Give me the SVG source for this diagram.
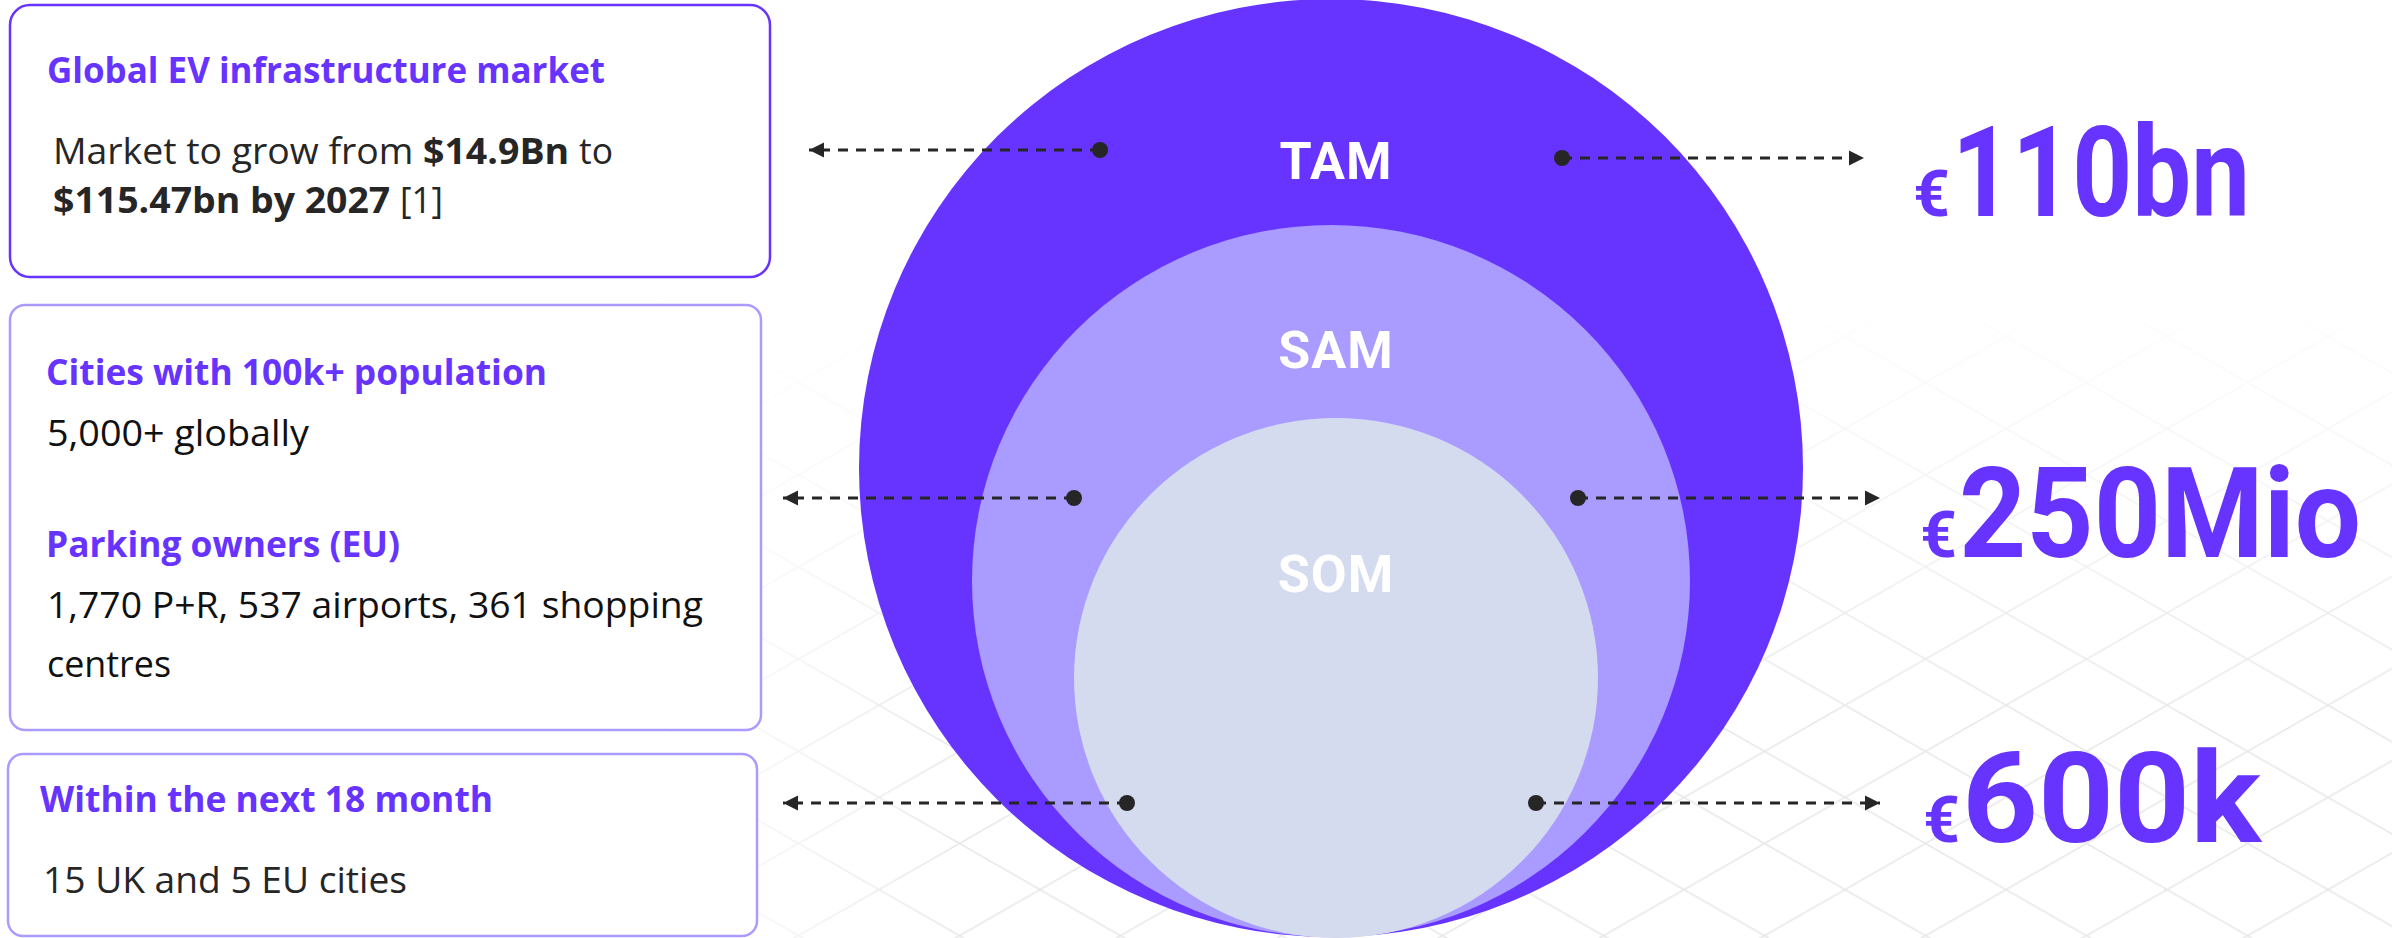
<svg xmlns="http://www.w3.org/2000/svg" width="2392" height="938" viewBox="0 0 2392 938">
<style>
.box1{fill:#fff;stroke:#6633FF;stroke-width:2.5}
.box2{fill:#fff;stroke:#A99BFF;stroke-width:2.5}
.ttl{font-family:"Open Sans","Noto Sans",sans-serif;font-weight:700;font-size:36px;fill:#6633FF}
.body{font-family:"Open Sans","Noto Sans",sans-serif;font-weight:400;font-size:36px;fill:#262626}
.b{font-weight:700}
.lbl{font-family:Roboto,"Liberation Sans",sans-serif;font-weight:700;font-size:52px;fill:#fff;text-anchor:middle;letter-spacing:1px}
.big{font-family:Roboto,"Liberation Sans",sans-serif;font-weight:700;font-size:126px;fill:#6633FF}
.eur{font-family:Roboto,"Liberation Sans",sans-serif;font-weight:700;font-size:64px;fill:#6633FF;text-anchor:end}
.conn{stroke:#262626;stroke-width:3;stroke-dasharray:10 8;fill:none;marker-start:url(#dot);marker-end:url(#arr)}
</style>
<defs>
<marker id="arr" markerUnits="userSpaceOnUse" markerWidth="16" markerHeight="16" viewBox="0 0 16 16" refX="15" refY="8" orient="auto">
<path d="M0,0.5 L15,8 L0,15.5 z" fill="#262626"/>
</marker>
<marker id="dot" markerUnits="userSpaceOnUse" markerWidth="18" markerHeight="18" viewBox="0 0 18 18" refX="9" refY="9" orient="auto">
<circle cx="9" cy="9" r="8" fill="#262626"/>
</marker>
<pattern id="grid" patternUnits="userSpaceOnUse" x="1845" y="613" width="161" height="92.2">
<path d="M0,0 L161,92.2 M0,92.2 L161,0" stroke="#e9e9e9" stroke-width="1.6" fill="none"/>
</pattern>
<linearGradient id="gv" x1="0" y1="280" x2="0" y2="720" gradientUnits="userSpaceOnUse">
<stop offset="0" stop-color="#fff" stop-opacity="0"/>
<stop offset="1" stop-color="#fff" stop-opacity="1"/>
</linearGradient>
<linearGradient id="gh" x1="640" y1="0" x2="950" y2="0" gradientUnits="userSpaceOnUse">
<stop offset="0" stop-color="#fff" stop-opacity="0"/>
<stop offset="1" stop-color="#fff" stop-opacity="1"/>
</linearGradient>
<mask id="mv" maskUnits="userSpaceOnUse" x="0" y="0" width="2392" height="938"><rect x="0" y="0" width="2392" height="938" fill="url(#gv)"/></mask>
<mask id="mh" maskUnits="userSpaceOnUse" x="0" y="0" width="2392" height="938"><rect x="0" y="0" width="2392" height="938" fill="url(#gh)"/></mask>
</defs>
<rect x="0" y="0" width="2392" height="938" fill="#fff"/>
<g id="background-grid" mask="url(#mh)">
<rect x="600" y="250" width="1792" height="688" fill="url(#grid)" mask="url(#mv)"/>
</g>

<g id="tam">
<ellipse cx="1331" cy="468" rx="472" ry="469" fill="#6633FF"/>
<text class="lbl" x="1336" y="179">TAM</text>
</g>
<g id="sam">
<ellipse cx="1331" cy="581" rx="359" ry="356" fill="#A99BFF"/>
<text class="lbl" x="1336" y="368">SAM</text>
</g>
<g id="som">
<ellipse cx="1336" cy="678" rx="262" ry="260" fill="#D5DBEE"/>
<text class="lbl" x="1336" y="592">SOM</text>
</g>

<g id="box-tam">
<rect class="box1" x="10" y="5" width="760" height="272" rx="20"/>
<text class="ttl" x="47" y="83" textLength="558" lengthAdjust="spacingAndGlyphs">Global EV infrastructure market</text>
<text class="body" y="164"><tspan x="53" textLength="370" lengthAdjust="spacingAndGlyphs">Market to grow from </tspan><tspan class="b" x="423" textLength="156" lengthAdjust="spacingAndGlyphs">$14.9Bn </tspan><tspan x="579" textLength="34" lengthAdjust="spacingAndGlyphs">to</tspan></text>
<text class="body" y="213"><tspan class="b" x="53" textLength="347" lengthAdjust="spacingAndGlyphs">$115.47bn by 2027 </tspan><tspan x="400" textLength="43" lengthAdjust="spacingAndGlyphs">[1]</tspan></text>
</g>

<g id="box-sam">
<rect class="box2" x="10" y="305" width="751" height="425" rx="15"/>
<text class="ttl" x="46" y="385" textLength="501" lengthAdjust="spacingAndGlyphs">Cities with 100k+ population</text>
<text class="body" x="47" y="446" textLength="262" lengthAdjust="spacingAndGlyphs" style="fill:#111">5,000+ globally</text>
<text class="ttl" x="46" y="557" textLength="354" lengthAdjust="spacingAndGlyphs">Parking owners (EU)</text>
<text class="body" x="47" y="618" textLength="656" lengthAdjust="spacingAndGlyphs" style="fill:#111">1,770 P+R, 537 airports, 361 shopping</text>
<text class="body" x="47" y="677" textLength="124" lengthAdjust="spacingAndGlyphs" style="fill:#111">centres</text>
</g>

<g id="box-som">
<rect class="box2" x="8" y="754" width="749" height="182" rx="15"/>
<text class="ttl" x="40" y="812" textLength="453" lengthAdjust="spacingAndGlyphs">Within the next 18 month</text>
<text class="body" x="43" y="893" textLength="364" lengthAdjust="spacingAndGlyphs">15 UK and 5 EU cities</text>
</g>

<g id="value-tam">
<text class="eur" x="1950" y="216">€</text>
<text class="big" x="1952" y="216" textLength="298" lengthAdjust="spacingAndGlyphs">110bn</text>
</g>
<g id="value-sam">
<text class="eur" x="1957" y="557">€</text>
<text class="big" x="1959" y="557" textLength="402" lengthAdjust="spacingAndGlyphs">250Mio</text>
</g>
<g id="value-som">
<text class="eur" x="1960" y="842">€</text>
<text class="big" x="1962" y="842" textLength="299" lengthAdjust="spacingAndGlyphs">600k</text>
</g>

<g id="connectors">
<path class="conn" d="M1100,150 L809,150"/>
<path class="conn" d="M1562,158 L1864,158"/>
<path class="conn" d="M1074,498 L783,498"/>
<path class="conn" d="M1578,498 L1880,498"/>
<path class="conn" d="M1127,803 L783,803"/>
<path class="conn" d="M1536,803 L1880,803"/>
</g>
</svg>
